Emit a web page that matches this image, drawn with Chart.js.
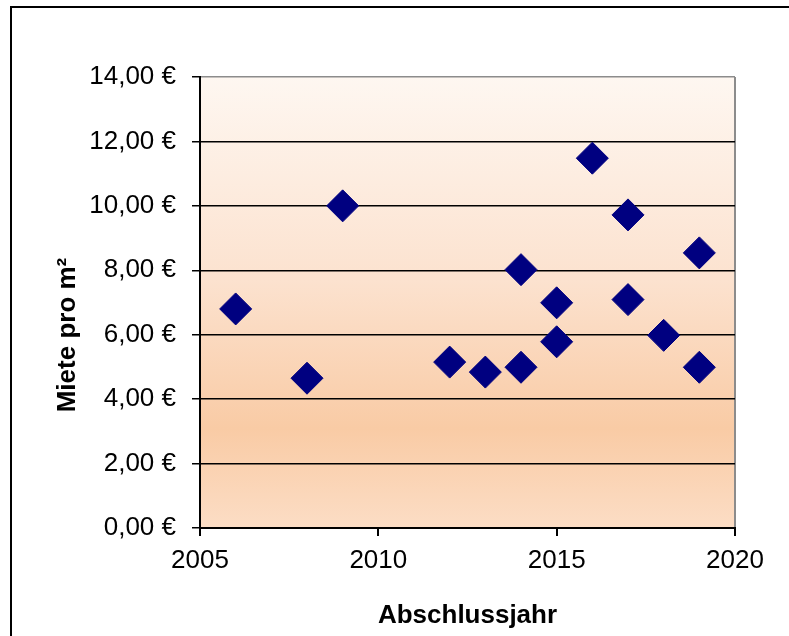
<!DOCTYPE html>
<html>
<head>
<meta charset="utf-8">
<script src="https://cdn.jsdelivr.net/npm/chart.js@4/dist/chart.umd.min.js"></script>
<style>
  html, body { margin: 0; padding: 0; background: #fff; overflow: hidden; }
  #wrap { width: 789px; height: 636px; }
</style>
</head>
<body>
<div id="wrap"><canvas id="rentChart" width="789" height="636"></canvas></div>
<script>
// Abschlussjahr / Miete pro m²
const years = [2006, 2008, 2009, 2012, 2013, 2014, 2014, 2015, 2015, 2016, 2017, 2017, 2018, 2019, 2019];
const rents = [6.80, 4.65, 10.00, 5.15, 4.84, 8.02, 4.99, 6.99, 5.78, 11.48, 9.72, 7.09, 5.98, 8.54, 4.99];
const yTicks = [0, 2, 4, 6, 8, 10, 12, 14];
const xTicks = [2005, 2010, 2015, 2020];

const points = years.map(function (y, i) { return { x: y, y: rents[i] }; });

const plotBackground = {
    id: 'plotBackground',
    beforeDraw: function (chart) {
        const ctx = chart.ctx;
        const a = chart.chartArea;
        const g = ctx.createLinearGradient(0, a.top, 0, a.bottom);
        g.addColorStop(0, '#fef7f1');
        g.addColorStop(0.45, '#fce2cf');
        g.addColorStop(0.78, '#f9cba5');
        g.addColorStop(1, '#fcddc5');
        ctx.save();
        ctx.fillStyle = g;
        ctx.fillRect(a.left, a.top, a.right - a.left, a.bottom - a.top);
        ctx.restore();
    },
    afterDraw: function (chart) {
        // outer frame of the picture
        const ctx = chart.ctx;
        ctx.save();
        ctx.strokeStyle = '#000';
        ctx.lineWidth = 2;
        ctx.beginPath();
        ctx.moveTo(11, 640);
        ctx.lineTo(11, 7);
        ctx.lineTo(795, 7);
        ctx.stroke();
        ctx.restore();
    }
};

new Chart(document.getElementById('rentChart').getContext('2d'), {
    type: 'scatter',
    data: {
        datasets: [{
            label: 'Miete pro m²',
            data: points,
            pointStyle: 'rectRot',
            pointRadius: 16,
            pointHoverRadius: 16,
            backgroundColor: '#000080',
            borderColor: '#000080',
            borderWidth: 1
        }]
    },
    options: {
        responsive: false,
        animation: false,
        layout: { padding: { top: 77, right: 54, left: 0, bottom: 0 } },
        plugins: {
            legend: { display: false },
            tooltip: { enabled: false }
        },
        scales: {
            x: {
                type: 'linear',
                min: 2005,
                max: 2020,
                afterFit: function (s) { s.height = 108; },
                afterBuildTicks: function (s) { s.ticks = xTicks.map(function (v) { return { value: v }; }); },
                ticks: {
                    color: '#000',
                    font: { family: 'Liberation Sans, Arial, sans-serif', size: 26 },
                    padding: 9,
                    maxRotation: 0,
                    callback: function (v) { return String(v); }
                },
                grid: {
                    color: function (c) { return c.tick && c.tick.value === 2020 ? '#8c8c8c' : 'rgba(0,0,0,0)'; },
                    lineWidth: 2,
                    tickColor: '#000',
                    tickLength: 8
                },
                border: { color: '#000', width: 2 },
                title: {
                    display: true,
                    text: 'Abschlussjahr',
                    color: '#000',
                    font: { family: 'Liberation Sans, Arial, sans-serif', size: 26, weight: 'bold' },
                    padding: { top: 0, bottom: 5 }
                }
            },
            y: {
                min: 0,
                max: 14,
                afterFit: function (s) { s.width = 200; },
                afterBuildTicks: function (s) { s.ticks = yTicks.map(function (v) { return { value: v }; }); },
                ticks: {
                    color: '#000',
                    font: { family: 'Liberation Sans, Arial, sans-serif', size: 26 },
                    padding: 16,
                    callback: function (v) { return v.toFixed(2).replace('.', ',') + ' €'; }
                },
                grid: {
                    color: function (c) { return c.tick && c.tick.value === 14 ? '#8c8c8c' : '#000'; },
                    lineWidth: 1.5,
                    tickColor: '#000',
                    tickLength: 8
                },
                border: { color: '#000', width: 2 },
                title: {
                    display: true,
                    text: 'Miete pro m²\u00a0\u00a0\u00a0\u00a0\u00a0\u00a0\u00a0\u00a0\u00a0',
                    color: '#000',
                    font: { family: 'Liberation Sans, Arial, sans-serif', size: 26, weight: 'bold' },
                    padding: { top: 52, bottom: 0 }
                }
            }
        }
    },
    plugins: [plotBackground]
});
</script>
</body>
</html>
